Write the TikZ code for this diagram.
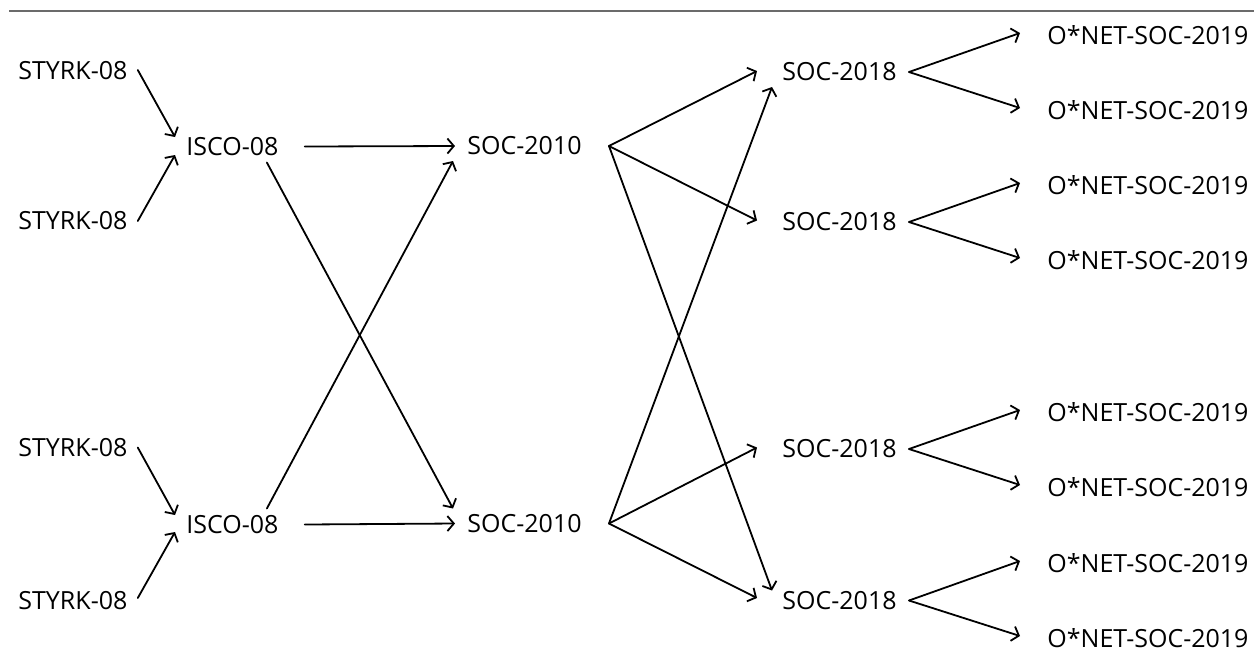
\documentclass[tikz,border=0pt]{standalone}
\usepackage{fontspec}
\setmainfont{Open Sans}
\usetikzlibrary{arrows.meta,calc}
\begin{document}
\begin{tikzpicture}[x=0.5pt,y=-0.5pt,
  lbl/.style={inner sep=0pt, anchor=west, font=\fontsize{12.5}{15}\selectfont},
  conn/.style={-{Straight Barb[length=3.2pt,width=7.5pt]}, line width=0.9pt, line cap=round}]
\useasboundingbox (0,0) rectangle (1254,661);
\draw[black!58, line width=1.1pt] (9,11) -- (1254,11);
% column 1
\node[lbl] (st1) at (18,71) {STYRK-08};
\node[lbl] (st2) at (18,221) {STYRK-08};
\node[lbl] (st3) at (18,447.5) {STYRK-08};
\node[lbl] (st4) at (18,600.5) {STYRK-08};
% column 2
\node[lbl] (is1) at (186,146.5) {ISCO-08};
\node[lbl] (is2) at (186,524.5) {ISCO-08};
% column 3
\node[lbl] (sa) at (467,146) {SOC-2010};
\node[lbl] (sb) at (467,523.5) {SOC-2010};
% column 4
\node[lbl] (ta) at (782,72) {SOC-2018};
\node[lbl] (tb) at (782,222) {SOC-2018};
\node[lbl] (tc) at (782,449) {SOC-2018};
\node[lbl] (td) at (782,600.5) {SOC-2018};
% column 5
\node[lbl] (o1) at (1047,35) {O*NET-SOC-2019};
\node[lbl] (o2) at (1047,110) {O*NET-SOC-2019};
\node[lbl] (o3) at (1047,185) {O*NET-SOC-2019};
\node[lbl] (o4) at (1047,260) {O*NET-SOC-2019};
\node[lbl] (o5) at (1047,412) {O*NET-SOC-2019};
\node[lbl] (o6) at (1047,487) {O*NET-SOC-2019};
\node[lbl] (o7) at (1047,563) {O*NET-SOC-2019};
\node[lbl] (o8) at (1047,638) {O*NET-SOC-2019};
% STYRK -> ISCO
\draw[conn] ($(st1.east)+(10,-1)$) -- ($(is1.west)+(-11,-9.5)$);
\draw[conn] ($(st2.east)+(10,0)$) -- ($(is1.west)+(-11,8.5)$);
\draw[conn] ($(st3.east)+(10,0)$) -- ($(is2.west)+(-11,-9.5)$);
\draw[conn] ($(st4.east)+(10,-2.5)$) -- ($(is2.west)+(-11,7.5)$);
% ISCO -> SOC-2010
\draw[conn] ($(is1.east)+(26,0)$) -- ($(sa.west)+(-12,0)$);
\draw[conn] ($(is2.east)+(26,0)$) -- ($(sb.west)+(-12,0)$);
\draw[conn] ($(is1.east)+(-12,16)$) -- ($(sb.west)+(-14,-15)$);
\draw[conn] ($(is2.east)+(-12,-16)$) -- ($(sa.west)+(-14,15)$);
% SOC-2010 -> SOC-2018
\coordinate (pa) at ($(sa.east)+(27,0)$);
\coordinate (pb) at ($(sb.east)+(27,0)$);
\draw[conn] (pa) -- ($(ta.west)+(-25,-1)$);
\draw[conn] (pa) -- ($(tb.west)+(-25,-1.5)$);
\draw[conn] (pa) -- ($(td.west)+(-10,-10)$);
\draw[conn] (pb) -- ($(ta.west)+(-10,15)$);
\draw[conn] (pb) -- ($(tc.west)+(-25,-1.5)$);
\draw[conn] (pb) -- ($(td.west)+(-25,-2.5)$);
% SOC-2018 -> O*NET
\foreach \t/\u/\v in {ta/o1/o2, tb/o3/o4, tc/o5/o6, td/o7/o8}{
  \draw[conn] ($(\t.east)+(12,0)$) -- ($(\u.west)+(-27,-2)$);
  \draw[conn] ($(\t.east)+(12,0)$) -- ($(\v.west)+(-27,-2)$);
}
\end{tikzpicture}
\end{document}
